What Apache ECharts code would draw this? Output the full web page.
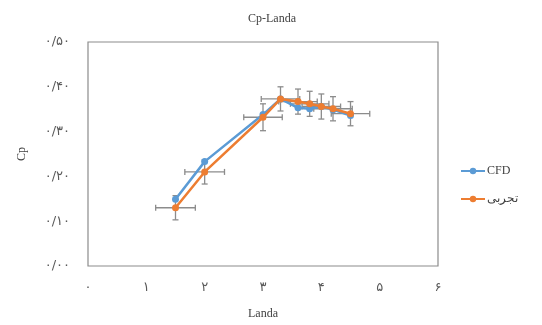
<!DOCTYPE html>
<html>
<head>
<meta charset="utf-8">
<script src="https://cdn.jsdelivr.net/npm/echarts@6/dist/echarts.min.js"></script>
<style>
  html, body { margin: 0; padding: 0; background: #fff; }
  #main { width: 542px; height: 325px; }
</style>
</head>
<body>
<div id="main"></div>
<script>
// داده ها
var landaCfd = [1.5, 2.0, 3.0, 3.3, 3.6, 3.8, 4.0, 4.2, 4.5];
var cpCfd    = [0.149, 0.233, 0.338, 0.373, 0.353, 0.351, 0.356, 0.349, 0.336];
var landaExp = [1.5, 2.0, 3.0, 3.3, 3.6, 3.8, 4.0, 4.2, 4.5];
var cpExp    = [0.130, 0.210, 0.332, 0.373, 0.367, 0.362, 0.356, 0.351, 0.340];
var errLanda = [0.34, 0.34, 0.33, 0.33, 0.33, 0.33, 0.33, 0.33, 0.33];
var errCp    = [0.027, 0.027, 0.03, 0.027, 0.028, 0.028, 0.028, 0.027, 0.027];
var xTickLabels = ['۰', '۱', '۲', '۳', '۴', '۵', '۶'];
var yTickLabels = ['۰/۰۰', '۰/۱۰', '۰/۲۰', '۰/۳۰', '۰/۴۰', '۰/۵۰'];
var seriesNames = ['CFD', 'تجربی'];

var myChart = echarts.init(document.getElementById('main'));

var font = '"Liberation Serif", "DejaVu Serif", serif';
var labelColor = '#595959';

function zip(xs, ys) {
    return xs.map(function (x, i) { return [x, ys[i]]; });
}

var errData = landaExp.map(function (x, i) {
    return [x, cpExp[i], errLanda[i], errCp[i]];
});

// خطای افقی و عمودی
function renderErr(params, api) {
    var x = api.value(0), y = api.value(1), ex = api.value(2), ey = api.value(3);
    var l = api.coord([x - ex, y]), r = api.coord([x + ex, y]);
    var t = api.coord([x, y + ey]), b = api.coord([x, y - ey]);
    var cap = 3;
    var st = { stroke: '#8c8c8c', lineWidth: 1.3 };
    function ln(x1, y1, x2, y2) {
        return { type: 'line', shape: { x1: x1, y1: y1, x2: x2, y2: y2 }, style: st };
    }
    return {
        type: 'group',
        children: [
            ln(l[0], l[1], r[0], r[1]),
            ln(l[0], l[1] - cap, l[0], l[1] + cap),
            ln(r[0], r[1] - cap, r[0], r[1] + cap),
            ln(t[0], t[1], b[0], b[1]),
            ln(t[0] - cap, t[1], t[0] + cap, t[1]),
            ln(b[0] - cap, b[1], b[0] + cap, b[1])
        ]
    };
}

var option = {
    animation: false,
    title: {
        text: 'Cp-Landa',
        left: 267,
        textAlign: 'center',
        top: 8,
        textStyle: { fontFamily: font, fontSize: 12, fontWeight: 'normal', color: '#404040' }
    },
    legend: {
        orient: 'vertical',
        left: 455,
        top: 160,
        itemGap: 16,
        itemWidth: 24,
        itemHeight: 8,
        data: seriesNames,
        textStyle: { fontFamily: font, fontSize: 12, color: '#404040', padding: [0, 0, 0, -3] }
    },
    grid: {
        left: 88, right: 104, top: 42, bottom: 58,
        show: true,
        borderColor: '#8c8c8c',
        borderWidth: 1.2
    },
    xAxis: {
        type: 'value',
        min: 0, max: 6, interval: 1,
        name: 'Landa',
        nameLocation: 'middle',
        nameGap: 42,
        nameTextStyle: { fontFamily: font, fontSize: 12, color: '#404040' },
        axisLine: { show: false },
        axisTick: { show: false },
        splitLine: { show: false },
        axisLabel: {
            margin: 15,
            fontFamily: '"DejaVu Sans", sans-serif',
            fontSize: 13,
            color: labelColor,
            formatter: function (v) { return xTickLabels[Math.round(v)]; }
        }
    },
    yAxis: {
        type: 'value',
        min: 0, max: 0.5, interval: 0.1,
        name: 'Cp',
        nameLocation: 'middle',
        nameGap: 60,
        nameTextStyle: { fontFamily: font, fontSize: 12, color: '#404040' },
        axisLine: { show: false },
        axisTick: { show: false },
        splitLine: { show: false },
        axisLabel: {
            margin: 18,
            fontFamily: '"DejaVu Sans", sans-serif',
            fontSize: 13,
            color: labelColor,
            formatter: function (v) { return yTickLabels[Math.round(v * 10)]; }
        }
    },
    series: [
        {
            name: seriesNames[0],
            type: 'line',
            data: zip(landaCfd, cpCfd),
            symbol: 'circle',
            symbolSize: 7,
            color: '#5B9BD5',
            lineStyle: { width: 2.5 },
            z: 3
        },
        {
            name: seriesNames[1],
            type: 'line',
            data: zip(landaExp, cpExp),
            symbol: 'circle',
            symbolSize: 7,
            color: '#ED7D31',
            lineStyle: { width: 2.5 },
            z: 4
        },
        {
            type: 'custom',
            renderItem: renderErr,
            data: errData,
            encode: { x: 0, y: 1 },
            silent: true,
            z: 2
        }
    ]
};

myChart.setOption(option);
</script>
</body>
</html>
